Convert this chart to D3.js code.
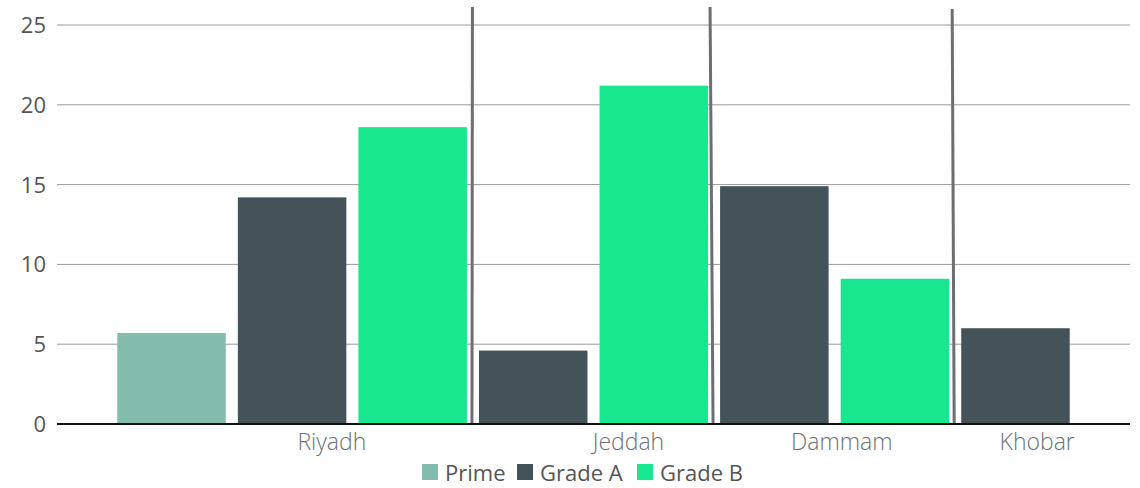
<!DOCTYPE html>
<html>
<head>
<meta charset="utf-8">
<script src="https://cdn.jsdelivr.net/npm/d3@7"></script>
<style>
  body { margin: 0; background: #fff; }
  svg { display: block; font-family: "Open Sans", Roboto, sans-serif; }
</style>
</head>
<body>
<svg id="chart" width="1140" height="488"></svg>
<script>
// data
const categories = ["Riyadh", "Jeddah", "Dammam", "Khobar"];
const seriesNames = ["Prime", "Grade A", "Grade B"];
const barCity = ["Riyadh", "Riyadh", "Riyadh", "Jeddah", "Jeddah", "Dammam", "Dammam", "Khobar"];
const barSeries = ["Prime", "Grade A", "Grade B", "Grade A", "Grade B", "Grade A", "Grade B", "Grade A"];
const barValues = [5.7, 14.2, 18.6, 4.6, 21.2, 14.9, 9.1, 6.0];
const yTicks = [0, 5, 10, 15, 20, 25];
// where each city label sits, in bar slots from the left edge
const labelSlot = [2.28, 4.74, 6.51, 8.13];

const colors = { "Prime": "#83bcad", "Grade A": "#445357", "Grade B": "#18e78f" };

const svg = d3.select("#chart");
const plotLeft = 57, plotRight = 1130, plotTop = 25, plotBottom = 424;

const x = d3.scaleBand()
  .domain(d3.range(barValues.length))
  .range([plotLeft, plotRight])
  .paddingInner(0.1)
  .paddingOuter(0.5);

const y = d3.scaleLinear().domain([0, 25]).range([plotBottom, plotTop]);

// gridlines
svg.append("g")
  .selectAll("line")
  .data(yTicks.filter(t => t > 0))
  .enter()
  .append("line")
  .attr("x1", plotLeft)
  .attr("x2", plotRight)
  .attr("y1", d => y(d))
  .attr("y2", d => y(d))
  .attr("stroke", "#9a9a9a")
  .attr("stroke-width", 1);

// y labels
svg.append("g")
  .selectAll("text")
  .data(yTicks)
  .enter()
  .append("text")
  .attr("x", 46)
  .attr("y", d => y(d))
  .attr("dy", "0.36em")
  .attr("text-anchor", "end")
  .attr("fill", "#555")
  .style("font-size", "22px")
  .text(d => d);

// bars
svg.append("g")
  .selectAll("rect")
  .data(barValues)
  .enter()
  .append("rect")
  .attr("x", (d, i) => x(i))
  .attr("y", d => y(d))
  .attr("width", x.bandwidth())
  .attr("height", d => y(0) - y(d))
  .attr("fill", (d, i) => colors[barSeries[i]]);

// separators between city groups (slightly tilted like the original)
const sepIdx = d3.range(1, barCity.length).filter(i => barCity[i] !== barCity[i - 1]);
const sepTilt = [0.5, -3, -2];
const sepTop = [7, 7, 9];
svg.append("g")
  .selectAll("line")
  .data(sepIdx)
  .enter()
  .append("line")
  .attr("x1", i => (x(i - 1) + x.bandwidth() + x(i)) / 2 - 1)
  .attr("x2", (i, k) => (x(i - 1) + x.bandwidth() + x(i)) / 2 - 1 + sepTilt[k])
  .attr("y1", y(0))
  .attr("y2", (i, k) => sepTop[k])
  .attr("stroke", "#6e6e6e")
  .attr("stroke-width", 3);

// baseline
svg.append("line")
  .attr("x1", plotLeft)
  .attr("x2", plotRight)
  .attr("y1", y(0))
  .attr("y2", y(0))
  .attr("stroke", "#111")
  .attr("stroke-width", 2);

// city labels
const slot = d3.scaleLinear().domain([0, 1]).range([plotLeft, plotLeft + x.step()]);
svg.append("g")
  .selectAll("text")
  .data(categories)
  .enter()
  .append("text")
  .attr("x", (d, i) => slot(labelSlot[i]))
  .attr("y", 450)
  .attr("text-anchor", "middle")
  .attr("fill", "#6b7373")
  .style("font-size", "23px")
  .style("font-weight", 300)
  .text(d => d);

// legend
const legendX = [422, 517, 637];
const legend = svg.append("g")
  .selectAll("g")
  .data(seriesNames)
  .enter()
  .append("g")
  .attr("transform", (d, i) => `translate(${legendX[i]},464)`);

legend.append("rect")
  .attr("width", 16)
  .attr("height", 16)
  .attr("fill", d => colors[d]);

legend.append("text")
  .attr("x", 23)
  .attr("y", 17)
  .attr("fill", "#555")
  .style("font-size", "22px")
  .text(d => d);
</script>
</body>
</html>
